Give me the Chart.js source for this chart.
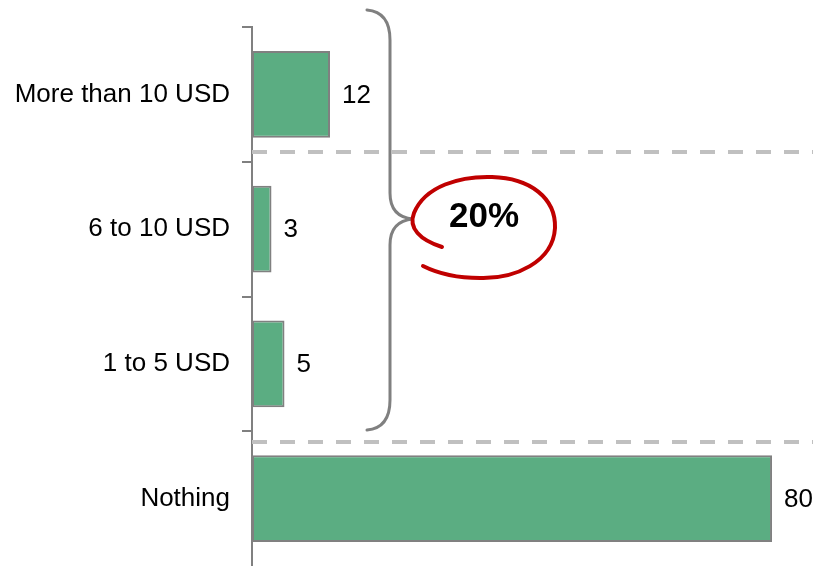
<!DOCTYPE html>
<html>
<head>
<meta charset="utf-8">
<script src="https://cdn.jsdelivr.net/npm/chart.js@4"></script>
<style>
  html, body { margin: 0; padding: 0; background: #ffffff; overflow: hidden; }
  #wrap { width: 813px; height: 566px; position: relative; }
</style>
</head>
<body>
<div id="wrap"><canvas id="spendChart"></canvas></div>
<script>
// data
const categories = ['More than 10 USD', '6 to 10 USD', '1 to 5 USD', 'Nothing'];
const amounts = [12, 3, 5, 80];
const groupLabel = '20%';

const barColor = '#5bad82';
const edgeColor = '#808080';
const dashColor = '#c0c0c0';
const loopColor = '#c00000';
const fontFamily = 'Arial, "Liberation Sans", sans-serif';

// value next to each bar
const valueLabels = {
    id: 'valueLabels',
    afterDatasetsDraw(chart) {
        const ctx = chart.ctx;
        const meta = chart.getDatasetMeta(0);
        ctx.save();
        ctx.font = '26px ' + fontFamily;
        ctx.fillStyle = '#000000';
        ctx.textAlign = 'left';
        ctx.textBaseline = 'middle';
        meta.data.forEach((bar, i) => {
            ctx.fillText(String(amounts[i]), bar.x + 12, bar.y + 1);
        });
        ctx.restore();
    }
};

// dashed separators, the brace and the red loop round the total
const annotations = {
    id: 'annotations',
    afterDraw(chart) {
        const ctx = chart.ctx;
        const area = chart.chartArea;
        const y = chart.scales.y;
        ctx.save();

        // dashed lines
        ctx.strokeStyle = dashColor;
        ctx.lineWidth = 4;
        ctx.setLineDash([15, 13]);
        [0.426, 2.578].forEach(v => {
            const py = Math.round(y.getPixelForValue(v));
            ctx.beginPath();
            ctx.moveTo(area.left, py);
            ctx.lineTo(area.right, py);
            ctx.stroke();
        });
        ctx.setLineDash([]);

        // curly brace
        const bx = 390;
        const top = 10, mid = 219, bottom = 430;
        ctx.strokeStyle = edgeColor;
        ctx.lineWidth = 3;
        ctx.lineCap = 'round';
        ctx.beginPath();
        ctx.moveTo(bx - 23, top);
        ctx.quadraticCurveTo(bx, top + 2, bx, top + 30);
        ctx.lineTo(bx, mid - 26);
        ctx.quadraticCurveTo(bx, mid - 2, bx + 23, mid);
        ctx.quadraticCurveTo(bx, mid + 2, bx, mid + 26);
        ctx.lineTo(bx, bottom - 30);
        ctx.quadraticCurveTo(bx, bottom - 2, bx - 23, bottom);
        ctx.stroke();

        // hand drawn loop
        ctx.strokeStyle = loopColor;
        ctx.lineWidth = 4;
        ctx.beginPath();
        ctx.moveTo(442, 247);
        ctx.bezierCurveTo(420, 240, 408, 228, 414, 213);
        ctx.bezierCurveTo(425, 186, 460, 176, 492, 177);
        ctx.bezierCurveTo(530, 178, 556, 198, 555, 228);
        ctx.bezierCurveTo(553, 262, 515, 279, 480, 278);
        ctx.bezierCurveTo(455, 278, 435, 272, 423, 266);
        ctx.stroke();

        ctx.font = 'bold 35px ' + fontFamily;
        ctx.fillStyle = '#000000';
        ctx.textAlign = 'center';
        ctx.textBaseline = 'middle';
        ctx.fillText(groupLabel, 484, 217);
        ctx.restore();
    }
};

new Chart(document.getElementById('spendChart'), {
    type: 'bar',
    data: {
        labels: categories,
        datasets: [{
            data: amounts,
            backgroundColor: barColor,
            borderColor: edgeColor,
            borderWidth: 2,
            borderSkipped: false,
            barPercentage: 0.645,
            categoryPercentage: 1
        }]
    },
    options: {
        indexAxis: 'y',
        responsive: true,
        maintainAspectRatio: false,
        animation: false,
        layout: { padding: { top: 27, right: 0, bottom: 0, left: 0 } },
        plugins: {
            legend: { display: false },
            tooltip: { enabled: false }
        },
        scales: {
            x: {
                display: false,
                min: 0,
                max: 86.3
            },
            y: {
                afterFit(scale) {
                    scale.width = 252;
                    scale.paddingTop = 0;
                    scale.paddingBottom = 0;
                },
                border: { color: edgeColor, width: 2 },
                grid: {
                    drawOnChartArea: false,
                    color: edgeColor,
                    // the bottom boundary sits below the picture edge, so no tick there
                    tickColor: (c) => c.tick ? edgeColor : 'rgba(0,0,0,0)',
                    lineWidth: 2,
                    tickLength: 10,
                    offset: true
                },
                ticks: {
                    color: '#000000',
                    padding: 12,
                    font: { family: fontFamily, size: 26 }
                }
            }
        }
    },
    plugins: [valueLabels, annotations]
});
</script>
</body>
</html>
